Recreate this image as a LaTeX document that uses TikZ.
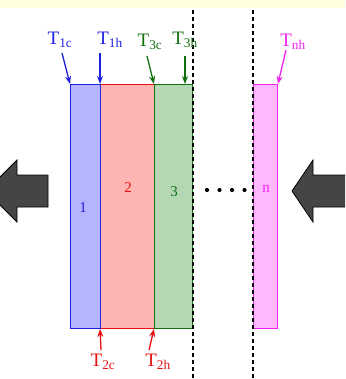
\documentclass[tikz,border=0pt]{standalone}
\usepackage{fontspec}
\setmainfont{Liberation Serif}
\usetikzlibrary{arrows.meta}
\definecolor{bgyellow}{HTML}{FFFFE0}
\definecolor{cblue}{HTML}{2020E0}
\definecolor{fblue}{HTML}{B4B4FF}
\definecolor{cred}{HTML}{E81010}
\definecolor{fred}{HTML}{FFB4B4}
\definecolor{cgreen}{HTML}{107010}
\definecolor{fgreen}{HTML}{B4D8B4}
\definecolor{cmag}{HTML}{F020F0}
\definecolor{fmag}{HTML}{FFB8FF}
\definecolor{bigarrow}{HTML}{454545}
\tikzset{
  layer/.style={draw=#1, line width=0.9pt, inner sep=0pt, minimum height=244pt, anchor=north west},
  tlabel/.style={text=#1, font=\fontsize{19}{22}\selectfont, inner sep=0pt},
  numlabel/.style={text=#1, font=\fontsize{15}{18}\selectfont, inner sep=0pt},
  tarrow/.style={draw=#1, line width=1.3pt, -{Stealth[length=8pt,width=6pt]}},
  wall/.style={line width=2.6pt, dash pattern=on 4pt off 3pt},
  bigarr/.style={fill=bigarrow, draw=black, line width=0.8pt}
}
\begin{document}
\begin{tikzpicture}[x=1pt,y=-1pt]
\useasboundingbox (0,0) rectangle (345,379);
\clip (0,0) rectangle (345,379);
\fill[bgyellow] (0,0) rectangle (345,8);
% layers
\node[layer=cblue, fill=fblue, minimum width=30pt] (r1) at (70,84) {};
\node[layer=cred, fill=fred, minimum width=54pt] (r2) at (100,84) {};
\node[layer=cgreen, fill=fgreen, minimum width=38pt] (r3) at (154,84) {};
\node[layer=cmag, fill=fmag, minimum width=24pt] (rn) at (253,84) {};
\draw[cblue, line width=0.9pt] (r1.north east) -- (r1.south east);
% walls
\coordinate (w1t) at (193,10); \coordinate (w1b) at (193,379);
\coordinate (w2t) at (253,10); \coordinate (w2b) at (253,379);
\draw[wall] (w1t) -- (w1b);
\draw[wall] (w2t) -- (w2b);
% dots
\foreach \x in {207,219.5,232,244.5} \fill (\x,190) circle (2.1pt);
% numbers
\node[numlabel=cblue] (n1) at (83,208) {1};
\node[numlabel=cred] (n2) at (128,188) {2};
\node[numlabel=cgreen] (n3) at (174,192) {3};
\node[numlabel=cmag] (nn) at (266,189) {n};
% top labels
\node[tlabel=cblue] (t1c) at (60,40) {T\textsubscript{1c}};
\node[tlabel=cblue] (t1h) at (110,40) {T\textsubscript{1h}};
\node[tlabel=cgreen] (t3c) at (150,42) {T\textsubscript{3c}};
\node[tlabel=cgreen] (t3h) at (185,40) {T\textsubscript{3h}};
\node[tlabel=cmag] (tnh) at (293,42) {T\textsubscript{nh}};
\draw[tarrow=cblue] (62,53) -- (r1.north west);
\draw[tarrow=cblue] (100,53) -- (r2.north west);
\draw[tarrow=cgreen] (147,56) -- (r3.north west);
\draw[tarrow=cgreen] (185,56) -- (185,84);
\draw[tarrow=cmag] (286,50) -- (rn.north east);
% bottom labels
\node[tlabel=cred] (t2c) at (103,362) {T\textsubscript{2c}};
\node[tlabel=cred] (t2h) at (158,362) {T\textsubscript{2h}};
\draw[tarrow=cred] (101,350) -- (r2.south west);
\draw[tarrow=cred] (149,350) -- (r3.south west);
% big arrows
\draw[bigarr] (48,175) -- (17,175) -- (17,160) -- (-14,191) -- (17,222) -- (17,207) -- (48,207) -- cycle;
\draw[bigarr] (350,175) -- (313,175) -- (313,160) -- (292,191) -- (313,222) -- (313,207) -- (350,207) -- cycle;
\end{tikzpicture}
\end{document}
